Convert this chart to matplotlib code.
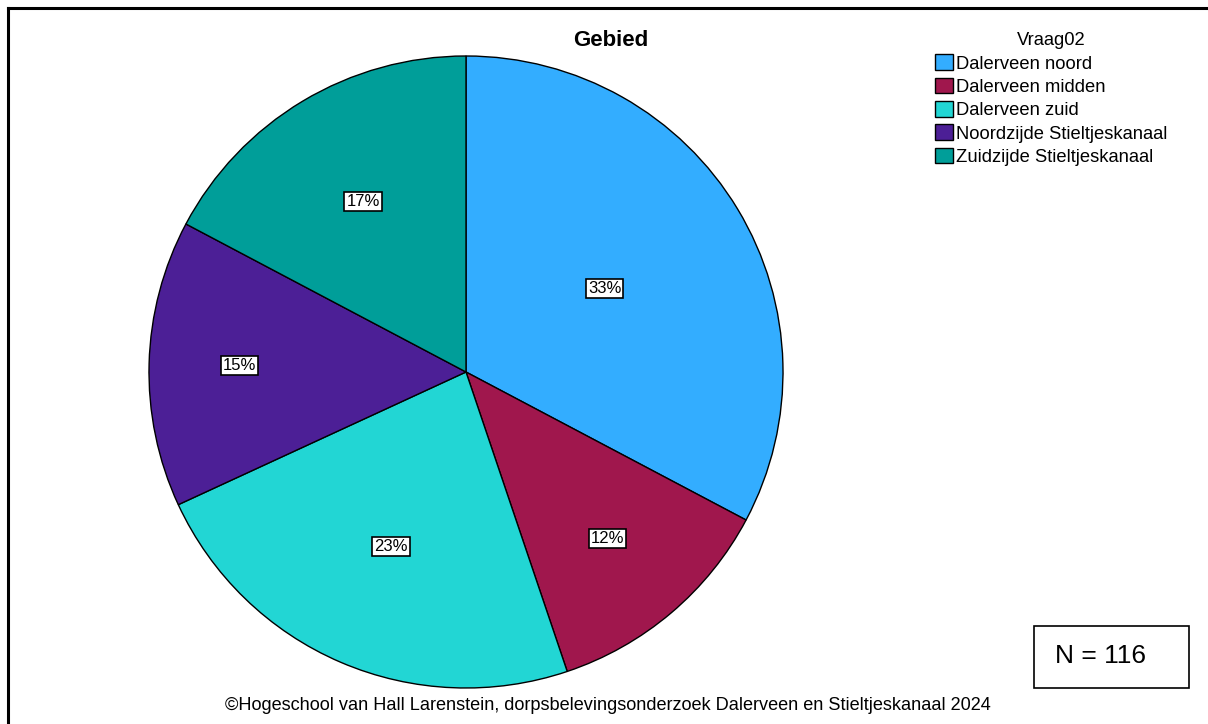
import numpy as np
import matplotlib.pyplot as plt
from matplotlib.lines import Line2D
from matplotlib.patches import Rectangle

plt.rcParams['font.family'] = ['Liberation Sans', 'DejaVu Sans']

# Data
categories = ['Dalerveen noord', 'Dalerveen midden', 'Dalerveen zuid',
              'Noordzijde Stieltjeskanaal', 'Zuidzijde Stieltjeskanaal']
counts = [38, 14, 27, 17, 20]
colors = ['#33ADFF', '#A0174D', '#22D6D4', '#4C1F96', '#009E99']
label_dist = [0.51, 0.69, 0.60, 0.715, 0.63]  # radial position of % labels
n_total = sum(counts)

fig = plt.figure(figsize=(12.08, 7.24), dpi=100)

# Pie
ax = fig.add_axes([149 / 1208, 36 / 724, 634 / 1208, 632 / 724])
wedges, _ = ax.pie(counts, colors=colors, startangle=90, counterclock=False,
                   radius=1, wedgeprops=dict(edgecolor='black', linewidth=1))
ax.set_xlim(-1, 1)
ax.set_ylim(-1, 1)
ax.set_aspect('auto')
ax.axis('off')

# Percentage labels
for w, c, d in zip(wedges, counts, label_dist):
    ang = np.deg2rad((w.theta1 + w.theta2) / 2)
    ax.text(d * np.cos(ang), d * np.sin(ang), f'{round(100 * c / n_total)}%',
            ha='center', va='center', fontsize=12,
            bbox=dict(boxstyle='square,pad=0.12', fc='white', ec='black', lw=1.2))

# Title
fig.text(611 / 1208, 1 - 40 / 724, 'Gebied', ha='center', va='center',
         fontsize=16, fontweight='bold')

# Legend
leg = fig.legend(wedges, categories, title='Vraag02', loc='upper left',
                 bbox_to_anchor=(926 / 1208, 1 - 23 / 724), frameon=False,
                 fontsize=13.2, title_fontsize=13.2, handlelength=0.95,
                 handleheight=0.95, handletextpad=0.2, labelspacing=0.28,
                 borderpad=0)

# N box
fig.add_artist(Rectangle((1034 / 1208, 1 - 688 / 724), 155 / 1208, 62 / 724,
                         transform=fig.transFigure, fc='white', ec='black', lw=1.2))
fig.text(1055 / 1208, 1 - 656 / 724, 'N = 116', ha='left', va='center',
         fontsize=19)

# Footer
fig.text(608 / 1208, 1 - 705 / 724,
         '©Hogeschool van Hall Larenstein, dorpsbelevingsonderzoek Dalerveen en Stieltjeskanaal 2024',
         ha='center', va='center', fontsize=13.1)

# Frame (top and left edges)
y_top = 1 - 8 / 724
x_left = 8 / 1208
fig.add_artist(Line2D([x_left, 1], [y_top, y_top], color='black', lw=2.2,
                      transform=fig.transFigure))
fig.add_artist(Line2D([x_left, x_left], [0, y_top], color='black', lw=2.2,
                      transform=fig.transFigure))

fig.savefig('out.png', dpi=100)
